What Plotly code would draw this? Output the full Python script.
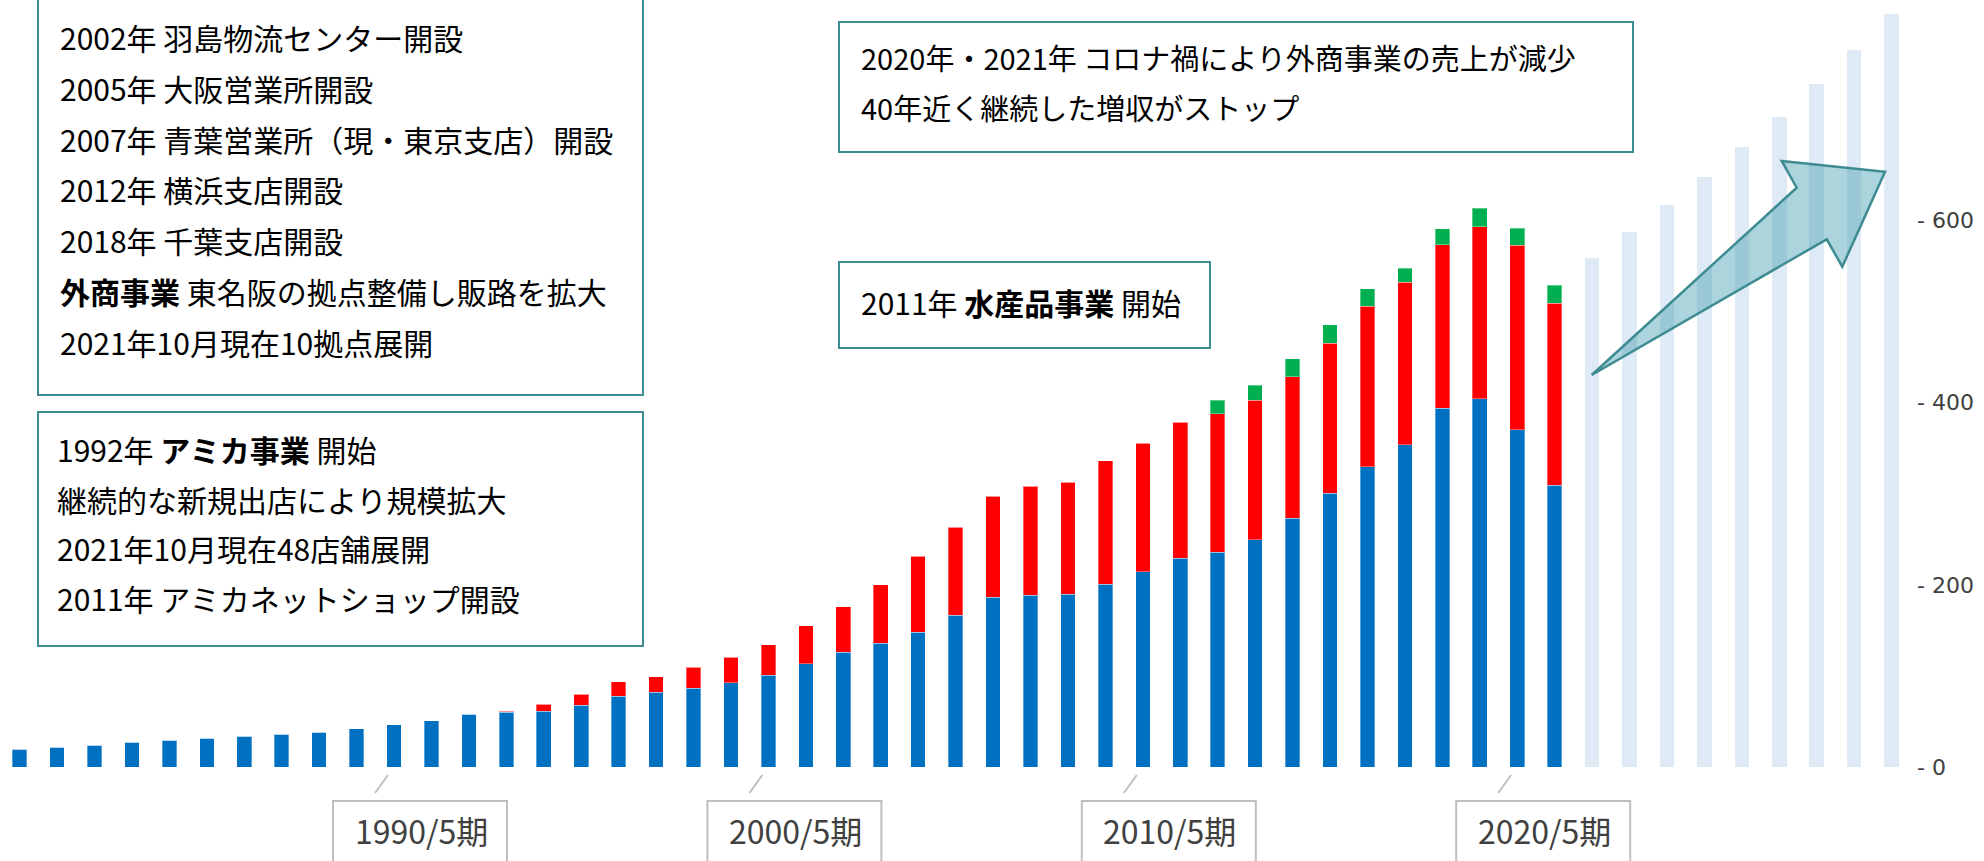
import plotly.graph_objects as go

# ---------------- data ----------------
fiscal_years = list(range(1980, 2022))          # 1980/5期 ... 2021/5期
gaisho = [19.4, 21.6, 23.8, 27.4, 29.6, 31.8, 34.0, 36.2, 38.4, 42.1,
          46.5, 50.9, 57.8, 60.0, 61.1, 67.7, 77.6, 82.3, 86.7, 92.6,
          100.6, 113.1, 126.2, 135.7, 147.8, 166.8, 186.6, 188.8, 189.5, 200.6,
          214.4, 229.0, 235.5, 249.7, 273.2, 300.4, 329.7, 354.0, 393.8, 404.0,
          370.3, 309.4]                          # 外商事業 (blue)
amika = [0, 0, 0, 0, 0, 0, 0, 0, 0, 0,
         0, 0, 0, 1.1, 7.9, 12.4, 16.1, 16.9, 22.7, 28.1,
         33.7, 41.7, 49.8, 64.1, 83.8, 96.3, 110.5, 119.6, 123.2, 135.6,
         140.9, 149.4, 152.2, 152.7, 155.1, 164.5, 176.2, 177.9, 179.5, 188.8,
         202.2, 199.7]                           # アミカ事業 (red)
suisan = [0, 0, 0, 0, 0, 0, 0, 0, 0, 0,
          0, 0, 0, 0, 0, 0, 0, 0, 0, 0,
          0, 0, 0, 0, 0, 0, 0, 0, 0, 0,
          0, 0, 15.1, 16.6, 19.9, 20.7, 19.1, 15.8, 17.8, 20.7,
          19.1, 19.5]                            # 水産品事業 (green)
future_years = list(range(2022, 2031))
future_values = [558.7, 587.2, 616.9, 647.6, 680.6, 713.2, 749.6, 787.0, 826.6]

y_ticks = [0, 200, 400, 600]
y_tick_labels = ["- 0", "- 200", "- 400", "- 600"]
period_label_years = [1990, 2000, 2010, 2020]
period_labels = [f"{y}/5期" for y in period_label_years]

box1_lines = ["2002年 羽島物流センター開設", "2005年 大阪営業所開設",
              "2007年 青葉営業所（現・東京支店）開設", "2012年 横浜支店開設",
              "2018年 千葉支店開設", "<b>外商事業</b> 東名阪の拠点整備し販路を拡大",
              "2021年10月現在10拠点展開"]
box2_lines = ["1992年 <b>アミカ事業</b> 開始", "継続的な新規出店により規模拡大",
              "2021年10月現在48店舗展開", "2011年 アミカネットショップ開設"]
box3_lines = ["2020年・2021年 コロナ禍により外商事業の売上が減少",
              "40年近く継続した増収がストップ"]
box4_lines = ["2011年 <b>水産品事業</b> 開始"]

# ---------------- geometry ----------------
W, H = 1984, 861
PL, PR, PT, PB = 0, 1910, 10, 767
BAR_STEP = 37.44
X0 = 1980 - 19.6 / BAR_STEP
X1 = X0 + (PR - PL) / BAR_STEP
YMAX = (PB - PT) / 0.911

def fx(px):
    return (px - PL) / (PR - PL)

def fy(py):
    return (PB - py) / (PB - PT)

TEAL = "#3E8C92"
JP = "Noto Sans CJK JP"

fig = go.Figure()
edge = dict(width=1, color="rgba(255,255,255,0.35)")
fig.add_trace(go.Bar(x=fiscal_years, y=gaisho, width=0.39,
                     marker=dict(color="#0070C0", line=edge), name="外商事業"))
fig.add_trace(go.Bar(x=fiscal_years, y=amika, width=0.39,
                     marker=dict(color="#FF0000", line=edge), name="アミカ事業"))
fig.add_trace(go.Bar(x=fiscal_years, y=suisan, width=0.39,
                     marker=dict(color="#00B050", line=edge), name="水産品事業"))
fig.add_trace(go.Bar(x=future_years, y=future_values, width=0.39,
                     marker=dict(color="#DEEAF6", line=dict(width=0)), name="future"))

shapes = []
annotations = []

def add_box(x0, x1, y0, y1, lines, tx, ty_list, size=29.5):
    shapes.append(dict(type="rect", xref="paper", yref="paper",
                       x0=fx(x0), x1=fx(x1), y0=fy(y0), y1=fy(y1),
                       line=dict(color=TEAL, width=2), fillcolor="white", layer="above"))
    for line, ty in zip(lines, ty_list):
        annotations.append(dict(xref="paper", yref="paper", x=fx(tx), y=fy(ty),
                                text=line, showarrow=False, xanchor="left", yanchor="middle",
                                font=dict(family=JP, size=size, color="#000000")))

add_box(38, 643, -10, 395, box1_lines, 58,
        [37 + 50.8 * i for i in range(len(box1_lines))], size=30)
add_box(38, 643, 412, 646, box2_lines, 55,
        [449 + 49.5 * i for i in range(len(box2_lines))], size=30)
add_box(839, 1633, 22, 152, box3_lines, 859, [57, 107], size=29)
add_box(839, 1210, 262, 348, box4_lines, 859, [302], size=30)

# period labels under the axis
for yr, lab in zip(period_label_years, period_labels):
    shapes.append(dict(type="rect", xref="x", yref="paper",
                       x0=yr - 61 / BAR_STEP, x1=yr + 113 / BAR_STEP,
                       y0=fy(801), y1=fy(875),
                       line=dict(color="#BFBFBF", width=2), fillcolor="white"))
    shapes.append(dict(type="line", xref="x", yref="paper",
                       x0=yr - 6 / BAR_STEP, x1=yr - 19 / BAR_STEP,
                       y0=fy(775), y1=fy(793),
                       line=dict(color="#BFBFBF", width=2)))
    annotations.append(dict(xref="x", yref="paper", x=yr + 27 / BAR_STEP, y=fy(830),
                            text=lab, showarrow=False, xanchor="center", yanchor="middle",
                            font=dict(family=JP, size=32, color="#404040")))

# growth arrow
pts = [(1591.7, 375), (1796.7, 187.7), (1781.7, 161), (1885, 171.7),
       (1842.3, 266.7), (1826.7, 239.3)]
path = "M " + " L ".join(f"{fx(a):.5f},{fy(b):.5f}" for a, b in pts) + " Z"
shapes.append(dict(type="path", xref="paper", yref="paper", path=path,
                   fillcolor="rgba(70,160,178,0.45)",
                   line=dict(color=TEAL, width=2.5), layer="above"))

fig.update_layout(
    width=W, height=H,
    margin=dict(l=PL, r=W - PR, t=PT, b=H - PB, pad=0),
    paper_bgcolor="white", plot_bgcolor="white",
    barmode="stack", bargap=0, showlegend=False,
    shapes=shapes, annotations=annotations,
    xaxis=dict(range=[X0, X1], showticklabels=False, showgrid=False,
               zeroline=False, showline=False, ticks=""),
    yaxis=dict(range=[0, YMAX], side="right", tickvals=y_ticks, ticktext=y_tick_labels,
               showgrid=False, zeroline=False, showline=False, ticks="",
               ticklabelstandoff=6,
               tickfont=dict(family="DejaVu Sans", size=22, color="#404040")),
    hovermode=False,
)

fig.write_html(
    "out.html",
    config={"displayModeBar": False, "staticPlot": True},
    post_script="document.body.style.margin='0';document.body.style.overflow='hidden';",
)
